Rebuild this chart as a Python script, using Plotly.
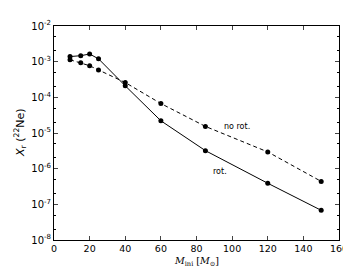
import math
import plotly.graph_objects as go

mass = [9, 15, 20, 25, 40, 60, 85, 120, 150]
x_rot = [1.39e-3, 1.47e-3, 1.64e-3, 1.2e-3, 2.1e-4, 2.2e-5, 3.2e-6, 3.9e-7, 6.8e-8]
x_norot = [1.13e-3, 9.4e-4, 7.7e-4, 5.85e-4, 2.6e-4, 6.7e-5, 1.53e-5, 2.95e-6, 4.4e-7]
ytick_vals = [1e-8, 1e-7, 1e-6, 1e-5, 1e-4, 1e-3, 1e-2]
ytick_text = ["10<sup>-8</sup>", "10<sup>-7</sup>", "10<sup>-6</sup>", "10<sup>-5</sup>",
              "10<sup>-4</sup>", "10<sup>-3</sup>", "10<sup>-2</sup>"]
xtick_vals = [0, 20, 40, 60, 80, 100, 120, 140, 160]

fig = go.Figure()
fig.add_trace(go.Scatter(x=mass, y=x_rot, mode="lines+markers",
                         line=dict(color="black", width=1),
                         marker=dict(color="black", size=5), name="rot."))
fig.add_trace(go.Scatter(x=mass, y=x_norot, mode="lines+markers",
                         line=dict(color="black", width=1, dash="4px,3px"),
                         marker=dict(color="black", size=5), name="no rot."))

fig.add_annotation(x=103, y=math.log10(1.5e-5), text="no rot.", showarrow=False,
                   font=dict(size=8, color="black"), xanchor="center")
fig.add_annotation(x=93, y=math.log10(8.5e-7), text="rot.", showarrow=False,
                   font=dict(size=8, color="black"), xanchor="center")
fig.add_annotation(x=0.5, y=0, xref="paper", yref="paper", yanchor="top", yshift=-13,
                   text="<i>M</i><sub>ini</sub> [<i>M</i><sub>⊙</sub>]", showarrow=False,
                   font=dict(family="DejaVu Serif", size=9.5, color="black"))
fig.add_annotation(x=0, y=0.5, xref="paper", yref="paper", xanchor="center", yanchor="middle",
                   xshift=-34, textangle=-90,
                   text="<i>X</i><sub>r</sub> (<sup>22</sup>Ne)", showarrow=False,
                   font=dict(family="DejaVu Sans", size=11, color="black"))

fig.update_layout(
    width=351, height=269,
    margin=dict(l=46, r=13, t=11, b=37),
    paper_bgcolor="white", plot_bgcolor="white",
    showlegend=False,
    font=dict(family="DejaVu Sans", size=10, color="black"),
    xaxis=dict(range=[0, 160], tickvals=xtick_vals, ticks="inside", ticklen=4,
               showline=True, linecolor="black", linewidth=1, mirror="ticks",
               showgrid=False, zeroline=False,
               tickfont=dict(size=9.5)),
    yaxis=dict(type="log", range=[-8, -2], tickvals=ytick_vals, ticktext=ytick_text,
               ticks="inside", ticklen=4,
               minor=dict(ticks="inside", ticklen=2, tickcolor="black", showgrid=False),
               showline=True, linecolor="black", linewidth=1, mirror="ticks",
               showgrid=False, zeroline=False,
               tickfont=dict(size=10)),
)

fig.write_html("out.html")
